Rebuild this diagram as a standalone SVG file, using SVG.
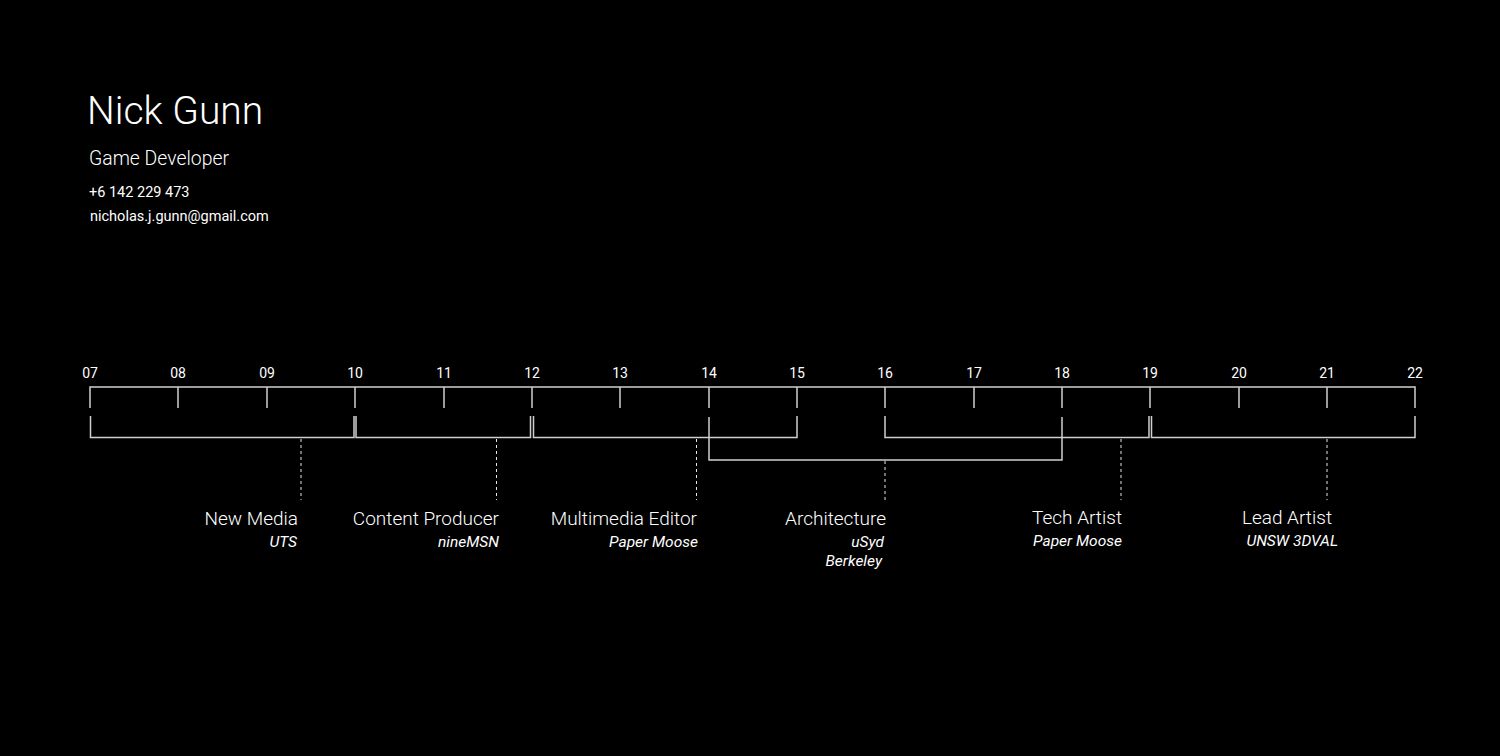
<svg xmlns="http://www.w3.org/2000/svg" width="1500" height="756" viewBox="0 0 1500 756">
<style>
text{font-family:Roboto,"Liberation Sans",sans-serif;fill:#fff}
.yr{font-size:14px;text-anchor:middle}
.role{font-size:19px;font-weight:300;text-anchor:end}
.org{font-size:15.5px;font-style:italic;text-anchor:end}
.ln{stroke:#cfcfcf;stroke-width:1.5;fill:none}
.dash{stroke:#e6e6e6;stroke-width:1;stroke-dasharray:3 3;fill:none}
</style>
<rect width="1500" height="756" fill="#000"/>
<g id="header">
<text x="87" y="124" style="font-size:39px;font-weight:300">Nick Gunn</text>
<text x="89" y="165" style="font-size:19.4px;font-weight:300">Game Developer</text>
<text x="89" y="197" style="font-size:14.5px">+6 142 229 473</text>
<text x="90" y="221" style="font-size:14.5px">nicholas.j.gunn@gmail.com</text>
</g>
<g id="axis">
<path class="ln" d="M90,408V387H1415V408M178,387V408M267,387V408M355,387V408M444,387V408M532,387V408M620,387V408M709,387V408M797,387V408M885,387V408M974,387V408M1062,387V408M1150,387V408M1239,387V408M1327,387V408"/>
<text class="yr" x="90" y="378">07</text>
<text class="yr" x="178" y="378">08</text>
<text class="yr" x="267" y="378">09</text>
<text class="yr" x="355" y="378">10</text>
<text class="yr" x="444" y="378">11</text>
<text class="yr" x="532" y="378">12</text>
<text class="yr" x="620" y="378">13</text>
<text class="yr" x="709" y="378">14</text>
<text class="yr" x="797" y="378">15</text>
<text class="yr" x="885" y="378">16</text>
<text class="yr" x="974" y="378">17</text>
<text class="yr" x="1062" y="378">18</text>
<text class="yr" x="1150" y="378">19</text>
<text class="yr" x="1239" y="378">20</text>
<text class="yr" x="1327" y="378">21</text>
<text class="yr" x="1415" y="378">22</text>
</g>
<g id="connectors">
<path class="ln" d="M90.5,416V437.5H354V416"/>
<path class="ln" d="M356,416V437.5H530.5V416"/>
<path class="ln" d="M533.5,416V437.5H797V416"/>
<path class="ln" d="M709,417V460H1062V417"/>
<path class="ln" d="M885,416V437.5H1149V416"/>
<path class="ln" d="M1151.5,416V437.5H1415V416"/>
<path class="dash" d="M301,439V500"/>
<path class="dash" d="M496.5,439V500"/>
<path class="dash" d="M696.5,439V500"/>
<path class="dash" d="M885,461V500"/>
<path class="dash" d="M1121,439V500"/>
<path class="dash" d="M1327,439V500"/>
</g>
<g id="new-media">
<text class="role" x="298" y="525">New Media</text>
<text class="org" x="297" y="547">UTS</text>
</g>
<g id="content-producer">
<text class="role" x="499" y="525">Content Producer</text>
<text class="org" x="499" y="547">nineMSN</text>
</g>
<g id="multimedia-editor">
<text class="role" x="697" y="525">Multimedia Editor</text>
<text class="org" x="698" y="547">Paper Moose</text>
</g>
<g id="architecture">
<text class="role" x="886" y="525">Architecture</text>
<text class="org" x="884" y="547">uSyd</text>
<text class="org" x="882" y="566">Berkeley</text>
</g>
<g id="tech-artist">
<text class="role" x="1122" y="524">Tech Artist</text>
<text class="org" x="1122" y="546">Paper Moose</text>
</g>
<g id="lead-artist">
<text class="role" x="1332" y="524">Lead Artist</text>
<text class="org" x="1338" y="546">UNSW 3DVAL</text>
</g>
</svg>
